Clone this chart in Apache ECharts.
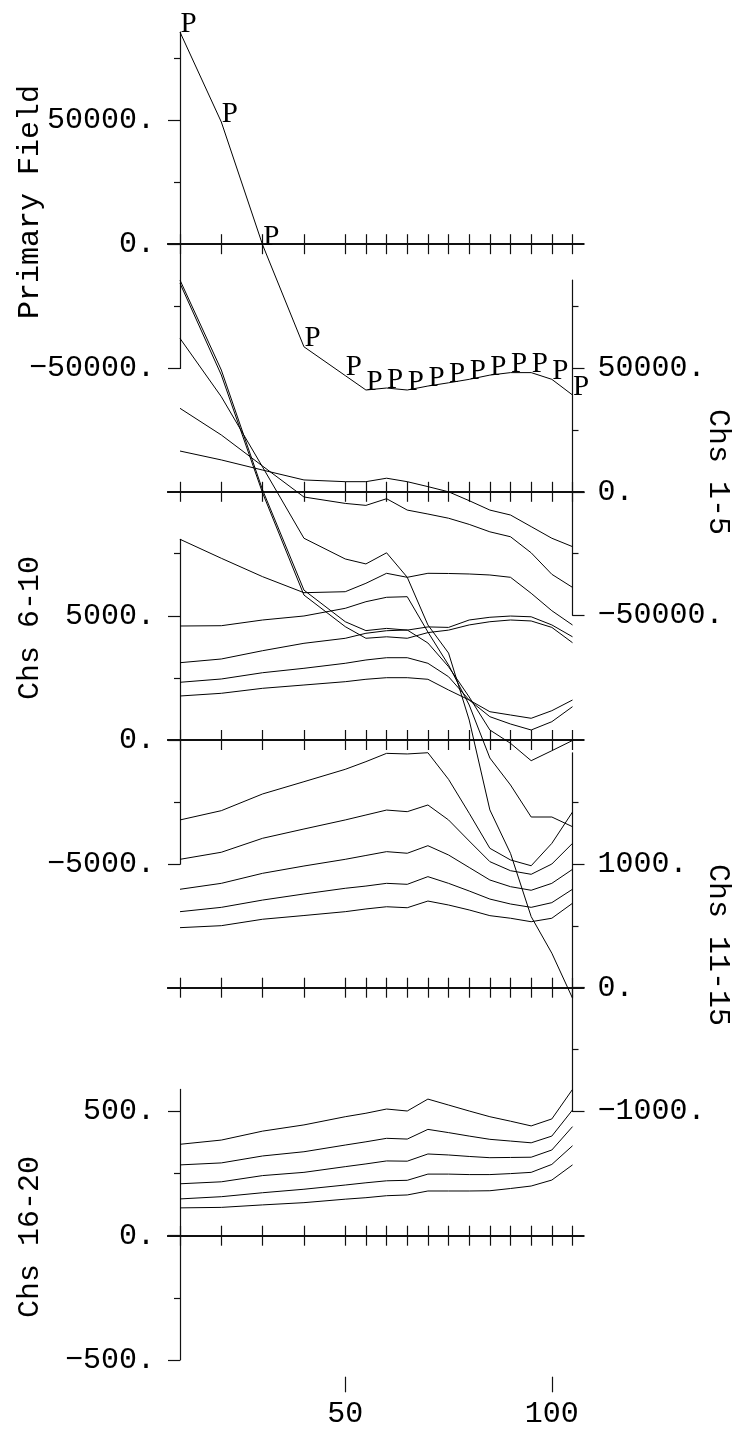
<!DOCTYPE html>
<html><head><meta charset="utf-8">
<script src="https://cdn.jsdelivr.net/npm/echarts@6/dist/echarts.min.js"></script>
<style>html,body{margin:0;padding:0;background:#fff}#c{width:737px;height:1429px}</style>
</head><body><div id="c"></div>
<script>
// ---------------- DATA ----------------
const stations = [10,20,30,40,50,55,60,65,70,75,80,85,90,95,100,105];
const primaryField = [85400,49200,-300,-41300,-52900,-58700,-57900,-58700,-57100,-55800,-54400,-52700,-51700,-51700,-54400,-60700];
const ch1 = [85700,49300,700,-39800,-52600,-56200,-55300,-56000,-54700,-54900,-51900,-50800,-50300,-50600,-53900,-58700];
const ch2 = [84400,47300,-500,-41800,-54600,-59300,-58700,-59300,-57000,-56000,-53900,-52600,-51900,-52300,-54900,-61100];
const ch3 = [62100,38500,10000,-18800,-27200,-29200,-24700,-34600,-53900,-65300,-92400,-128800,-146400,-172000,-186800,-205000];
const ch4 = [33800,23000,10400,-2100,-4700,-5500,-2800,-7400,-9000,-10700,-13200,-16200,-18200,-24700,-33400,-38700];
const ch5 = [16500,12900,8800,4800,4100,4100,5500,4100,2100,0,-3600,-7400,-9400,-14100,-18800,-22200];
const ch6 = [8080,7315,6574,5930,5970,6308,6711,6550,6711,6703,6683,6643,6550,5906,5205,4630];
const ch7 = [4589,4601,4831,4992,5302,5568,5745,5769,4348,3019,1409,-725,-1812,-3100,-3100,-3490];
const ch8 = [3112,3261,3595,3893,4094,4296,4400,4428,3905,2950,1731,403,-133,-833,-431,-20];
const ch9 = [2323,2456,2709,2886,3088,3221,3313,3313,3088,2548,1610,938,644,403,737,1341];
const ch10 = [1771,1880,2081,2214,2347,2444,2508,2508,2444,2013,1610,1139,1006,874,1180,1610];
const ch11 = [1355,1430,1565,1664,1764,1826,1893,1888,1898,1683,1409,1126,1032,985,1166,1419];
const ch12 = [1037,1094,1207,1282,1355,1395,1435,1422,1476,1355,1185,1018,945,916,999,1166];
const ch13 = [795,843,924,983,1037,1068,1099,1086,1147,1072,971,870,816,787,843,956];
const ch14 = [614,649,708,757,803,821,843,835,897,843,781,716,676,649,687,795];
const ch15 = [485,501,553,583,614,636,654,646,700,668,628,582,561,533,561,682];
const ch16 = [368,385,421,446,479,493,510,502,550,526,502,479,461,442,470,589];
const ch17 = [285,293,321,338,365,378,392,389,428,415,401,388,381,374,401,506];
const ch18 = [209,217,242,255,278,289,301,300,329,325,319,314,315,316,345,439];
const ch19 = [148,157,173,187,204,213,221,223,248,248,246,246,250,255,287,362];
const ch20 = [112,114,124,133,147,153,161,164,180,180,180,181,190,200,224,285];

const panelTitles = ['Primary Field','Chs 1-5','Chs 6-10','Chs 11-15','Chs 16-20'];
const panelLabelTicks = [[-50000,0,50000],[-50000,0,50000],[-5000,0,5000],[-1000,0,1000],[-500,0,500]];
const panelMinorTicks = [[-25000,25000,75000],[-25000,25000,75000],[-2500,2500,7500],[-500,500,1500],[-250,250]];
const panelMins = [-50000,-50000,-5000,-1000,-500];
const bottomTickLabels = [50,100];
const pointLabel = 'P';

// ---------------- LAYOUT ----------------
const FONT = 'Liberation Mono';
const FS = 30;
const X_LEFT_PX = 168, X_RIGHT_PX = 583.5, AXIS_L_PX = 180, AXIS_R_PX = 572.5;
const pxPerStation = (AXIS_R_PX - AXIS_L_PX) / (stations[stations.length-1] - stations[0]);
const xMin = stations[0] - (AXIS_L_PX - X_LEFT_PX) / pxPerStation;
const xMax = stations[stations.length-1] + (X_RIGHT_PX - AXIS_R_PX) / pxPerStation;

const panels = [
  {data:[primaryField], zeroY:244.2, ppu:124.2/50000, side:'left', tx:30, ty:202, primary:true},
  {data:[ch1,ch2,ch3,ch4,ch5], zeroY:491.8, ppu:123.5/50000, side:'right', tx:718, ty:472},
  {data:[ch6,ch7,ch8,ch9,ch10], zeroY:740, ppu:124.2/5000, side:'left', tx:30, ty:628},
  {data:[ch11,ch12,ch13,ch14,ch15], zeroY:987.7, ppu:123.8/1000, side:'right', tx:718, ty:945},
  {data:[ch16,ch17,ch18,ch19,ch20], zeroY:1235.7, ppu:124.2/500, side:'left', tx:30, ty:1237}
];

const fmt = v => (v < 0 ? '\u2212' : '') + Math.abs(v) + '.';
const textStyle = {fontFamily: FONT, fontSize: FS, color: '#000'};

const grid = [], xAxis = [], yAxis = [], series = [], graphic = [];
panels.forEach((p, i) => {
  const min = panelMins[i];
  const max = Math.max(...p.data.flat());
  const top = p.zeroY - max * p.ppu;
  const height = (max - min) * p.ppu;
  grid.push({left: X_LEFT_PX, width: X_RIGHT_PX - X_LEFT_PX, top: top, height: height, containLabel: false, outerBoundsMode: 'none'});
  const off = p.side === 'left' ? -(AXIS_L_PX - X_LEFT_PX) : -(X_RIGHT_PX - AXIS_R_PX);
  const yMain = yAxis.length;
  yAxis.push({gridIndex: i, type: 'value', position: p.side, offset: off, min: min, max: max,
    axisLine: {show: true, onZero: false, lineStyle: {color: '#111', width: 1.2}},
    axisTick: {show: true, customValues: panelLabelTicks[i], length: 12, lineStyle: {color: '#111', width: 1.2}},
    axisLabel: Object.assign({show: true, customValues: panelLabelTicks[i], formatter: fmt, margin: 25}, textStyle),
    splitLine: {show: false}});
  yAxis.push({gridIndex: i, type: 'value', position: p.side, offset: off, min: min, max: max,
    axisLine: {show: false, onZero: false},
    axisTick: {show: true, customValues: panelMinorTicks[i], length: 6, lineStyle: {color: '#111', width: 1.2}},
    axisLabel: {show: false}, splitLine: {show: false}});
  const xDown = xAxis.length;
  ['bottom','top'].forEach(pos => {
    xAxis.push({gridIndex: i, type: 'value', position: pos, min: xMin, max: xMax,
      axisLine: {show: true, onZero: true, onZeroAxisIndex: yMain, lineStyle: {color: '#111', width: 2}},
      axisTick: {show: true, customValues: stations, length: 10, lineStyle: {color: '#111', width: 1.2}},
      axisLabel: {show: false}, splitLine: {show: false}});
  });
  if (i === panels.length - 1) {
    const gridBottom = p.zeroY - min * p.ppu;
    xAxis.push({gridIndex: i, type: 'value', position: 'bottom', min: xMin, max: xMax, offset: 1376.7 - gridBottom,
      axisLine: {show: false, onZero: false},
      axisTick: {show: true, customValues: bottomTickLabels, length: 15.6, lineStyle: {color: '#111', width: 1.2}},
      axisLabel: Object.assign({show: true, customValues: bottomTickLabels, margin: 22}, textStyle),
      splitLine: {show: false}});
  }
  p.data.forEach(arr => {
    const s = {type: 'line', xAxisIndex: xDown, yAxisIndex: yMain, clip: false, silent: true,
      data: stations.map((st, k) => [st, arr[k]]),
      lineStyle: {color: '#000', width: 1}, animation: false};
    if (p.primary) {
      Object.assign(s, {showSymbol: true, symbol: 'circle', symbolSize: 1, itemStyle: {color: 'rgba(0,0,0,0)'},
        label: {show: true, formatter: pointLabel, position: [1, 7], align: 'left', verticalAlign: 'bottom',
          fontFamily: 'Liberation Serif', fontSize: 29, color: '#000'}});
    } else {
      s.symbol = 'none';
    }
    series.push(s);
  });
  graphic.push({type: 'text', x: p.tx, y: p.ty, rotation: p.side === 'left' ? Math.PI/2 : -Math.PI/2,
    style: {text: panelTitles[i], fontFamily: FONT, fontSize: FS, fill: '#000', align: 'center', verticalAlign: 'middle'}});
});

const chart = echarts.init(document.getElementById('c'), null, {renderer: 'canvas'});
chart.setOption({backgroundColor: '#fff', animation: false, grid, xAxis, yAxis, series, graphic});
</script></body></html>
